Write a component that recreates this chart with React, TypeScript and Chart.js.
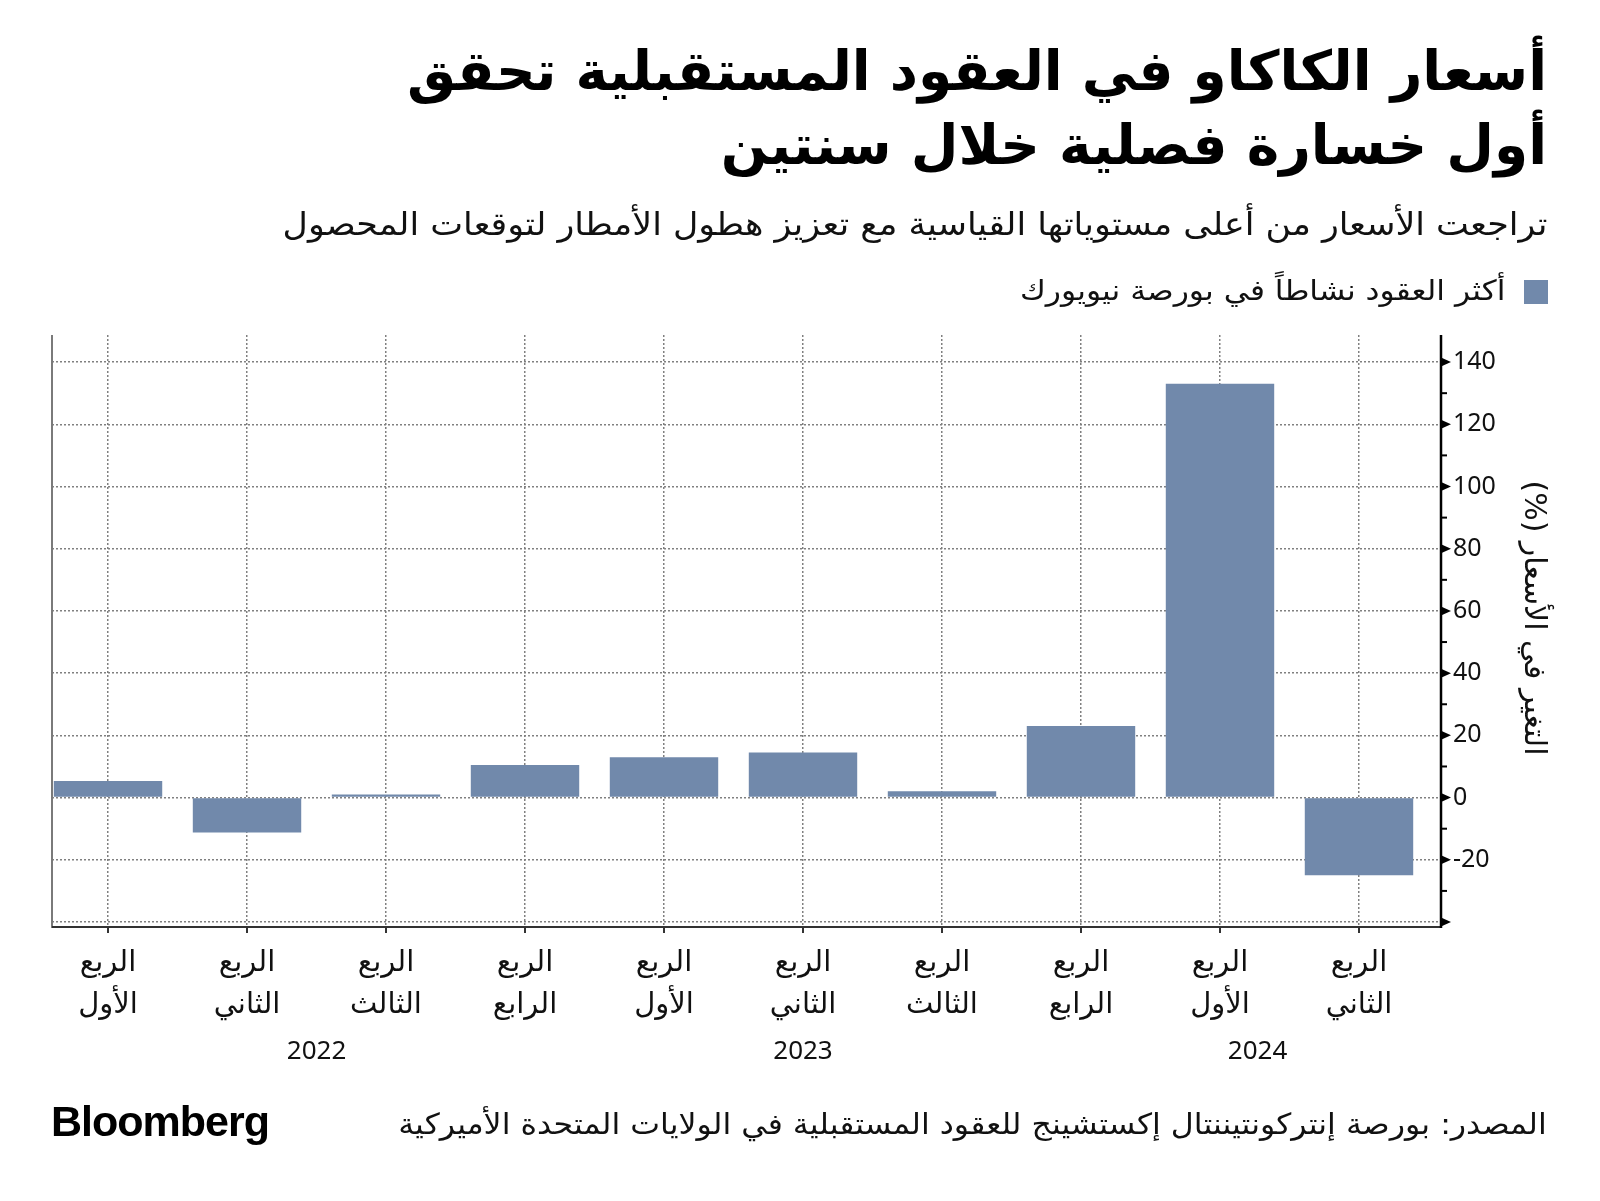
import React, { useEffect, useRef } from "react";
import { Chart, registerables } from "chart.js";

Chart.register(...registerables);

// ---- data ----
const quarterLine1 = "الربع";
const quarterNames = ["الأول", "الثاني", "الثالث", "الرابع", "الأول", "الثاني", "الثالث", "الرابع", "الأول", "الثاني"];
const changePct = [5.3, -11.2, 1.0, 10.5, 13.0, 14.5, 2.0, 23.0, 133.0, -25.0];
const years = ["2022", "2023", "2024"];
const yTickValues = [-40, -20, 0, 20, 40, 60, 80, 100, 120, 140];
const yMinorValues = [-30, -10, 10, 30, 50, 70, 90, 110, 130];

const titleLines = ["أسعار الكاكاو في العقود المستقبلية تحقق", "أول خسارة فصلية خلال سنتين"];
const subtitle = "تراجعت الأسعار من أعلى مستوياتها القياسية مع تعزيز هطول الأمطار لتوقعات المحصول";
const legendLabel = "أكثر العقود نشاطاً في بورصة نيويورك";
const yTitle = "التغير في الأسعار (%)";
const sourceText = "المصدر: بورصة إنتركونتيننتال إكستشينج للعقود المستقبلية في الولايات المتحدة الأميركية";

const BAR = "#7189ab";
const AR_FONT = '"DejaVu Sans", "Noto Sans", sans-serif';
const yearAnchor = [1.5, 5, 8.27];

const decor = {
  id: "decor",
  afterDatasetsDraw(chart: any) {
    const { ctx, chartArea: a, scales } = chart;
    const x = scales.x;
    const y = scales.y;
    const line = (x1: number, y1: number, x2: number, y2: number) => {
      ctx.beginPath();
      ctx.moveTo(x1, y1);
      ctx.lineTo(x2, y2);
      ctx.stroke();
    };
    ctx.save();
    ctx.setLineDash([]);
    // left axis line
    ctx.strokeStyle = "#7a7a7a";
    ctx.lineWidth = 2;
    line(a.left, a.top, a.left, a.bottom + 1);
    // bottom axis
    ctx.strokeStyle = "#333";
    ctx.lineWidth = 2;
    line(a.left, a.bottom, a.right, a.bottom);
    for (let i = 0; i < quarterNames.length; i++) {
      const px = x.getPixelForValue(i);
      line(px, a.bottom, px, a.bottom + 6);
    }
    // right axis
    ctx.strokeStyle = "#000";
    ctx.lineWidth = 2.5;
    line(a.right, a.top, a.right, a.bottom + 1);
    ctx.lineWidth = 2;
    for (const v of yMinorValues) {
      const py = y.getPixelForValue(v);
      line(a.right, py, a.right + 6, py);
    }
    ctx.fillStyle = "#000";
    for (const v of yTickValues) {
      const py = y.getPixelForValue(v);
      ctx.beginPath();
      ctx.moveTo(a.right, py - 4.5);
      ctx.lineTo(a.right + 10, py);
      ctx.lineTo(a.right, py + 4.5);
      ctx.closePath();
      ctx.fill();
    }
    // years
    ctx.font = '26px "Noto Sans", sans-serif';
    ctx.textAlign = "center";
    ctx.textBaseline = "middle";
    ctx.fillStyle = "#111";
    years.forEach((yr, i) => {
      ctx.fillText(yr, x.getPixelForValue(yearAnchor[i]), 1052);
    });
    // y title
    ctx.save();
    ctx.translate(1533, (a.top + a.bottom) / 2 - 13);
    ctx.rotate(Math.PI / 2);
    (ctx as any).direction = "rtl";
    ctx.font = "30px " + AR_FONT;
    ctx.textAlign = "center";
    ctx.textBaseline = "middle";
    ctx.fillStyle = "#111";
    ctx.fillText(yTitle, 0, 0);
    ctx.restore();
    ctx.restore();
  },
};

export default function App() {
  const ref = useRef<HTMLCanvasElement>(null);
  useEffect(() => {
    const canvas = ref.current!;
    const chart = new Chart(canvas, {
      type: "bar",
      data: {
        datasets: [
          {
            label: legendLabel,
            data: changePct.map((v, i) => ({ x: i, y: v })),
            backgroundColor: BAR,
            borderWidth: 0,
            barPercentage: 0.78,
            categoryPercentage: 1,
          },
        ],
      },
      options: {
        responsive: false,
        animation: false,
        devicePixelRatio: 1,
        layout: { padding: { left: 52, top: 335, right: 0, bottom: 124 } },
        plugins: { legend: { display: false }, tooltip: { enabled: false }, title: { display: false } },
        scales: {
          x: {
            type: "linear",
            min: -0.403,
            max: 9.59,
            offset: false,
            afterBuildTicks: (s: any) => {
              s.ticks = quarterNames.map((_, i) => ({ value: i }));
            },
            afterFit: (s: any) => {
              s.height = 150;
            },
            grid: { color: "#808080", lineWidth: 1.5, drawTicks: false, offset: false },
            border: { display: false, dash: [2, 2] },
            ticks: {
              padding: 15,
              maxRotation: 0,
              autoSkip: false,
              color: "#111",
              font: { family: AR_FONT, size: 29, lineHeight: 1.45 },
              callback: (v: any) => [quarterLine1, quarterNames[v as number]],
            },
          },
          y: {
            position: "right",
            min: -41.6,
            max: 148.7,
            afterBuildTicks: (s: any) => {
              s.ticks = yTickValues.map((v) => ({ value: v }));
            },
            afterFit: (s: any) => {
              s.width = 159;
            },
            grid: { color: "#808080", lineWidth: 1.5, drawTicks: false },
            border: { display: false, dash: [2, 2] },
            ticks: {
              padding: 12,
              color: "#111",
              font: { family: '"Noto Sans", sans-serif', size: 25 },
              callback: (v: any) => (v === -40 ? "" : String(v)),
            },
          },
        },
      },
      plugins: [decor],
    } as any);
    return () => chart.destroy();
  }, []);

  const abs = (s: React.CSSProperties): React.CSSProperties => ({ position: "absolute", whiteSpace: "nowrap", transformOrigin: "right center", ...s });

  return (
    <div style={{ position: "absolute", left: 0, top: 0, width: 1600, height: 1201, background: "#fff", overflow: "hidden" }}>
      <canvas ref={ref} width={1600} height={1201} style={{ position: "absolute", left: 0, top: 0 }} />
      <div dir="rtl" style={abs({ right: 53, top: 34, fontFamily: AR_FONT, fontWeight: 700, fontSize: 55, lineHeight: "74px", color: "#000", textAlign: "right" })}>
        <div>{titleLines[0]}</div>
        <div>{titleLines[1]}</div>
      </div>
      <div dir="rtl" style={abs({ right: 53, top: 203, fontFamily: AR_FONT, fontSize: 32, lineHeight: "42px", color: "#111", transform: "scaleX(1.09)" })}>{subtitle}</div>
      <div style={abs({ left: 1524, top: 280, width: 24, height: 24, background: BAR })} />
      <div dir="rtl" style={abs({ right: 95, top: 271, fontFamily: AR_FONT, fontSize: 28, lineHeight: "40px", color: "#111", transform: "scaleX(1.12)" })}>{legendLabel}</div>
      <div dir="rtl" style={abs({ right: 53, top: 1103, fontFamily: AR_FONT, fontSize: 29, lineHeight: "42px", color: "#111", transform: "scaleX(1.09)" })}>{sourceText}</div>
      <div style={abs({ left: 51, top: 1096, fontFamily: '"Liberation Sans", Arial, sans-serif', fontWeight: 700, fontSize: 43, letterSpacing: -1, lineHeight: "50px", color: "#000", transformOrigin: "left center" })}>Bloomberg</div>
    </div>
  );
}
